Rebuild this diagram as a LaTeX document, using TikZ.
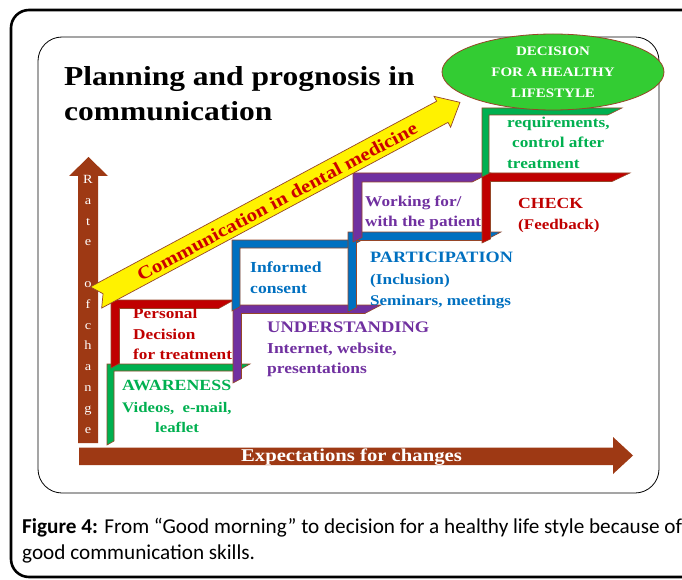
\documentclass[tikz,border=0pt]{standalone}
\usepackage{fontspec}
\setmainfont{Liberation Serif}
\newfontfamily\bookfont[FakeStretch=1.15]{Liberation Serif}
\newfontfamily\capfont{Carlito}
\usetikzlibrary{shapes.geometric}

\definecolor{stepgreen}{HTML}{00B050}
\definecolor{stepred}{HTML}{C00000}
\definecolor{steppurple}{HTML}{7030A0}
\definecolor{stepblue}{HTML}{0070C0}
\definecolor{rust}{RGB}{158,57,20}
\definecolor{rim}{RGB}{150,70,40}
\definecolor{lime}{HTML}{33CC33}
\definecolor{signred}{HTML}{CC0000}

\newcommand\fs[1]{\fontsize{#1}{#1}\selectfont}

% L-shaped stair step with bevelled ends:
% colour, left x, top y, right x of top bar, bottom y of left bar, bar thickness
\newcommand\halfframe[6]{%
  \pgfmathsetmacro\hfd{#6*(#4-#2)/(#5-#3)}%
  \pgfmathsetmacro\hfv{#6*(#5-#3)/(#4-#2)}%
  \filldraw[stepbar, fill=#1]
    (#2,#3) -- (#4,#3) -- ({#4-\hfd},{#3+#6}) -- ({#2+#6},{#3+#6})
    -- ({#2+#6},{#5-\hfv}) -- (#2,#5) -- cycle;}

\tikzset{
  stepbar/.style={draw=rim, line width=0.6pt, line join=miter},
  lbl/.style={inner sep=0pt, anchor=base west},
  rate/.style={inner sep=0pt, anchor=base, text=white, font=\bookfont\fs{12.5}},
}

\begin{document}
\begin{tikzpicture}[x=1pt,y=-1pt]
\useasboundingbox (0,0) rectangle (682,580);
\clip (0,0) rectangle (682,580);
\fill[white] (0,0) rectangle (682,580);

% frames
\draw[line width=2.6pt, rounded corners=18pt] (11,10) rectangle (705,577);
\draw[line width=0.8pt, rounded corners=24pt] (38,37) rectangle (659,493);

% axes
\fill[rust] (78,443) -- (78,176) -- (69,176) -- (88.5,157) -- (108,176)
  -- (98,176) -- (98,443) -- cycle;
\fill[rust] (79,447.5) -- (613,447.5) -- (613,437) -- (633,455.5)
  -- (613,474) -- (613,465) -- (79,465) -- cycle;
\node[inner sep=0pt, anchor=base, text=white, font=\bookfont\bfseries\fs{18}]
  (xlab) at (351.5,461) {Expectations for changes};

\foreach \ch [count=\k from 0] in {R,a,t,e,,o,f,c,h,a,n,g,e}
  \node[rate] (rc\k) at (88,{183.5+20.8*\k}) {\ch};

% stairs
\halfframe{stepgreen}{107}{364}{250}{445}{7}
\halfframe{stepred}{111}{300}{234}{368}{8.5}
\halfframe{steppurple}{233}{305}{381}{383}{8.5}
\halfframe{stepblue}{232}{240}{362}{311}{8}
\halfframe{stepblue}{348}{232}{501}{312}{8.5}
\halfframe{steppurple}{353}{173}{490}{242}{9}
\halfframe{stepred}{482}{173}{630}{243}{8.5}
\halfframe{stepgreen}{482}{108}{622}{177}{7}

% rising arrow
\begin{scope}[shift={(96,297.5)}, rotate=28.2]
  \filldraw[fill=yellow, draw=rim, line width=0.7pt]
    (0,-12) -- (393,-12) -- (393,-17.5) -- (413,0) -- (393,17.5)
    -- (393,12) -- (0,12) -- (8,0) -- cycle;
  \node[transform shape, inner sep=0pt, text=signred,
        font=\bookfont\bfseries\fs{18.3}] (comm) at (205,1)
    {Communication in dental medicine};
\end{scope}

% goal
\node[ellipse, fill=lime, draw=rim, line width=0.8pt, minimum width=222pt,
      minimum height=76pt, inner sep=0pt, align=center, text=white,
      font=\bookfont\bfseries\fontsize{13}{21}\selectfont] (goal) at (553,72)
  {DECISION\\FOR A HEALTHY\\LIFESTYLE};

% title
\node[lbl, font=\bookfont\bfseries\fs{27.4}] (t1) at (64,86) {Planning and prognosis in};
\node[lbl, font=\bookfont\bfseries\fs{27.4}] (t2) at (64,121) {communication};

% step labels
\begin{scope}[every node/.style={lbl}]
\node[text=stepred, font=\bookfont\bfseries\fs{15}] (pd1) at (133,318) {Personal};
\node[text=stepred, font=\bookfont\bfseries\fs{15}] (pd2) at (133,339) {Decision};
\node[text=stepred, font=\bookfont\bfseries\fs{15}] (pd3) at (133,359) {for treatment};

\node[text=stepgreen, font=\bookfont\bfseries\fs{15.5}] (aw1) at (122,390) {AWARENESS};
\node[text=stepgreen, font=\bookfont\bfseries\fs{14.6}] (aw2) at (122,412) {Videos,\ \ e-mail,};
\node[text=stepgreen, font=\bookfont\bfseries\fs{14.6}] (aw3) at (155,432) {leaflet};

\node[text=stepblue, font=\bookfont\bfseries\fs{15.3}] (ic1) at (250,272) {Informed};
\node[text=stepblue, font=\bookfont\bfseries\fs{15.3}] (ic2) at (250,293) {consent};

\node[text=steppurple, font=\bookfont\bfseries\fs{16.1}] (un1) at (267,332) {UNDERSTANDING};
\node[text=steppurple, font=\bookfont\bfseries\fs{15.2}] (un2) at (267,353) {Internet, website,};
\node[text=steppurple, font=\bookfont\bfseries\fs{15.2}] (un3) at (267,373) {presentations};

\node[text=steppurple, font=\bookfont\bfseries\fs{15}] (wk1) at (365,207) {Working for/};
\node[text=steppurple, font=\bookfont\bfseries\fs{15}] (wk2) at (365,226) {with the patient};

\node[text=stepblue, font=\bookfont\bfseries\fs{15.8}] (pa1) at (370,262) {PARTICIPATION};
\node[text=stepblue, font=\bookfont\bfseries\fs{15}] (pa2) at (370,284) {(Inclusion)};
\node[text=stepblue, font=\bookfont\bfseries\fs{14.8}] (pa3) at (370,305) {Seminars, meetings};

\node[text=stepred, font=\bookfont\bfseries\fs{15.4}] (ck1) at (518,208) {CHECK};
\node[text=stepred, font=\bookfont\bfseries\fs{14.8}] (ck2) at (518,229) {(Feedback)};

\node[text=stepgreen, font=\bookfont\bfseries\fs{15}] (rq1) at (507,128) {requirements,};
\node[text=stepgreen, font=\bookfont\bfseries\fs{15}] (rq2) at (512,148) {control after};
\node[text=stepgreen, font=\bookfont\bfseries\fs{15}] (rq3) at (507,169) {treatment};
\end{scope}

% caption
\node[lbl, font=\capfont\fs{21.2}] (cap1) at (22,533)
  {\textbf{Figure 4:} From “Good morning” to decision for a healthy life style because of};
\node[lbl, font=\capfont\fs{21.2}] (cap2) at (22,559) {good communication skills.};
\end{tikzpicture}
\end{document}
